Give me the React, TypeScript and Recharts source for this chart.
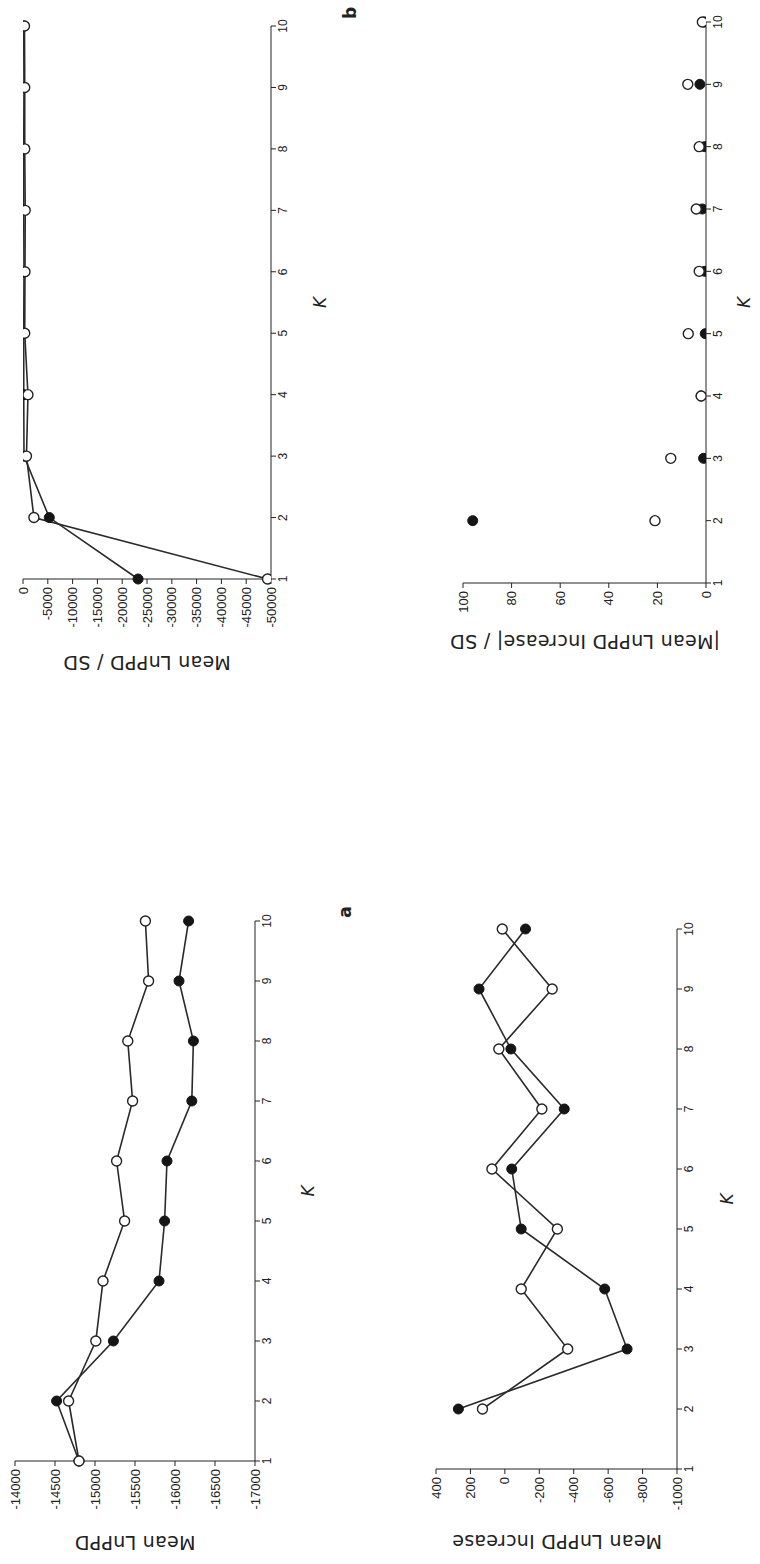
import React from "react";
import { LineChart, Line, XAxis, YAxis } from "recharts";

const K_VALUES = [1, 2, 3, 4, 5, 6, 7, 8, 9, 10];

// a: Mean LnPPD
const lnppdFilled = [-14800, -14520, -15230, -15800, -15870, -15900, -16210, -16230, -16050, -16170];
const lnppdOpen = [-14800, -14670, -15010, -15100, -15370, -15270, -15470, -15410, -15670, -15630];
const lnppdTicks = [-17000, -16500, -16000, -15500, -15000, -14500, -14000];

// b: Mean LnPPD / SD
const sdFilled = [-23200, -5300, -200, -150, -150, -200, -150, -150, -200, -150];
const sdOpen = [-49300, -2200, -700, -1000, -350, -400, -450, -350, -350, -300];
const sdTicks = [-50000, -45000, -40000, -35000, -30000, -25000, -20000, -15000, -10000, -5000, 0];

// c: Mean LnPPD Increase
const incFilled = [null, 270, -710, -580, -95, -40, -345, -35, 150, -120];
const incOpen = [null, 130, -365, -95, -305, 75, -215, 35, -275, 15];
const incTicks = [-1000, -800, -600, -400, -200, 0, 200, 400];

// d: |Mean LnPPD Increase| / SD
const absFilled = [null, 96, 1, 2, 0.3, 0.5, 1.5, 0.5, 2.5, 0.5];
const absOpen = [null, 21, 14.5, 2, 7.3, 2.8, 4, 2.8, 7.5, 1.5];
const absTicks = [0, 20, 40, 60, 80, 100];

const TICK_FONT = "'Liberation Sans', Arial, sans-serif";
const TITLE_FONT = "'DejaVu Sans', sans-serif";
const INK = "#222";

const rows = (filled: (number | null)[], open: (number | null)[]) =>
  K_VALUES.map((k, i) => ({ k, filled: filled[i], open: open[i] }));

type Box = { x: number; y: number; w: number; h: number };

function Panel(props: {
  box: Box;
  data: any[];
  domain: [number, number];
  ticks: number[];
  lines: boolean;
  title: string;
  titleX: number;
  kY: number;
  letter?: { text: string; x: number; y: number };
}) {
  const { box, data, domain, ticks, lines, title, titleX, kY, letter } = props;
  const ML = 110, MR = 30, MT = 10, MB = 90;
  const tick = { fontSize: 13, fill: INK, fontFamily: TICK_FONT };
  return (
    <>
      <div style={{ position: "absolute", left: box.x - ML, top: box.y - MT }}>
        <LineChart
          width={box.w + ML + MR}
          height={box.h + MT + MB}
          data={data}
          margin={{ top: MT, right: MR, bottom: MB - 30, left: ML - 60 }}
        >
          <XAxis
            type="number"
            dataKey="k"
            domain={[1, 10]}
            ticks={K_VALUES}
            interval={0}
            height={30}
            tickSize={5}
            tickMargin={2}
            stroke={INK}
            tick={{ ...tick, fontSize: 12 }}
          />
          <YAxis
            type="number"
            domain={domain}
            ticks={ticks}
            interval={0}
            width={60}
            tickSize={5}
            tickMargin={3}
            allowDataOverflow
            stroke={INK}
            tick={tick}
          />
          <Line
            dataKey="filled"
            stroke={lines ? "#2a2a2a" : "none"}
            strokeWidth={1.6}
            dot={{ r: 5, fill: "#151515", stroke: "#151515", strokeWidth: 1 }}
            activeDot={false}
            isAnimationActive={false}
          />
          <Line
            dataKey="open"
            stroke={lines ? "#2a2a2a" : "none"}
            strokeWidth={1.6}
            dot={{ r: 5, fill: "#fff", stroke: INK, strokeWidth: 1.4 }}
            activeDot={false}
            isAnimationActive={false}
          />
        </LineChart>
      </div>
      <div
        style={{
          position: "absolute",
          left: titleX,
          top: box.y + box.h / 2,
          transform: "translate(-50%, -50%) rotate(-90deg)",
          fontFamily: TITLE_FONT,
          fontSize: 19,
          letterSpacing: 0.3,
          color: INK,
          whiteSpace: "nowrap",
        }}
      >
        {title}
      </div>
      <div
        style={{
          position: "absolute",
          left: box.x + box.w / 2,
          top: kY,
          transform: "translate(-50%, -50%)",
          fontFamily: TITLE_FONT,
          fontStyle: "italic",
          fontSize: 17,
          color: INK,
        }}
      >
        K
      </div>
      {letter && (
        <div
          style={{
            position: "absolute",
            left: letter.x,
            top: letter.y,
            transform: "translate(-50%, -50%)",
            fontFamily: TITLE_FONT,
            fontWeight: "bold",
            fontSize: 17,
            color: INK,
          }}
        >
          {letter.text}
        </div>
      )}
    </>
  );
}

export default function App() {
  return (
    <div
      style={{
        position: "absolute",
        left: 0,
        top: 0,
        width: 760,
        height: 1564,
        overflow: "hidden",
        background: "#fff",
      }}
    >
      <div
        style={{
          position: "absolute",
          left: 0,
          top: 0,
          width: 1564,
          height: 760,
          transformOrigin: "0 0",
          transform: "translate(0px, 1564px) rotate(-90deg)",
        }}
      >
        <Panel
          box={{ x: 103, y: 15, w: 540, h: 240 }}
          data={rows(lnppdFilled, lnppdOpen)}
          domain={[-17000, -14000]}
          ticks={lnppdTicks}
          lines
          title="Mean LnPPD"
          titleX={21}
          kY={308}
          letter={{ text: "a", x: 652, y: 345 }}
        />
        <Panel
          box={{ x: 985, y: 23, w: 553, h: 248 }}
          data={rows(sdFilled, sdOpen)}
          domain={[-50000, 0]}
          ticks={sdTicks}
          lines
          title="Mean LnPPD / SD"
          titleX={901}
          kY={320}
          letter={{ text: "b", x: 1551, y: 350 }}
        />
        <Panel
          box={{ x: 95, y: 436, w: 540, h: 241 }}
          data={rows(incFilled, incOpen)}
          domain={[-1000, 400]}
          ticks={incTicks}
          lines
          title="Mean LnPPD Increase"
          titleX={22}
          kY={727}
        />
        <Panel
          box={{ x: 981, y: 463, w: 561, h: 243 }}
          data={rows(absFilled, absOpen)}
          domain={[0, 100]}
          ticks={absTicks}
          lines={false}
          title="|Mean LnPPD Increase| / SD"
          titleX={922}
          kY={744}
        />
      </div>
    </div>
  );
}
